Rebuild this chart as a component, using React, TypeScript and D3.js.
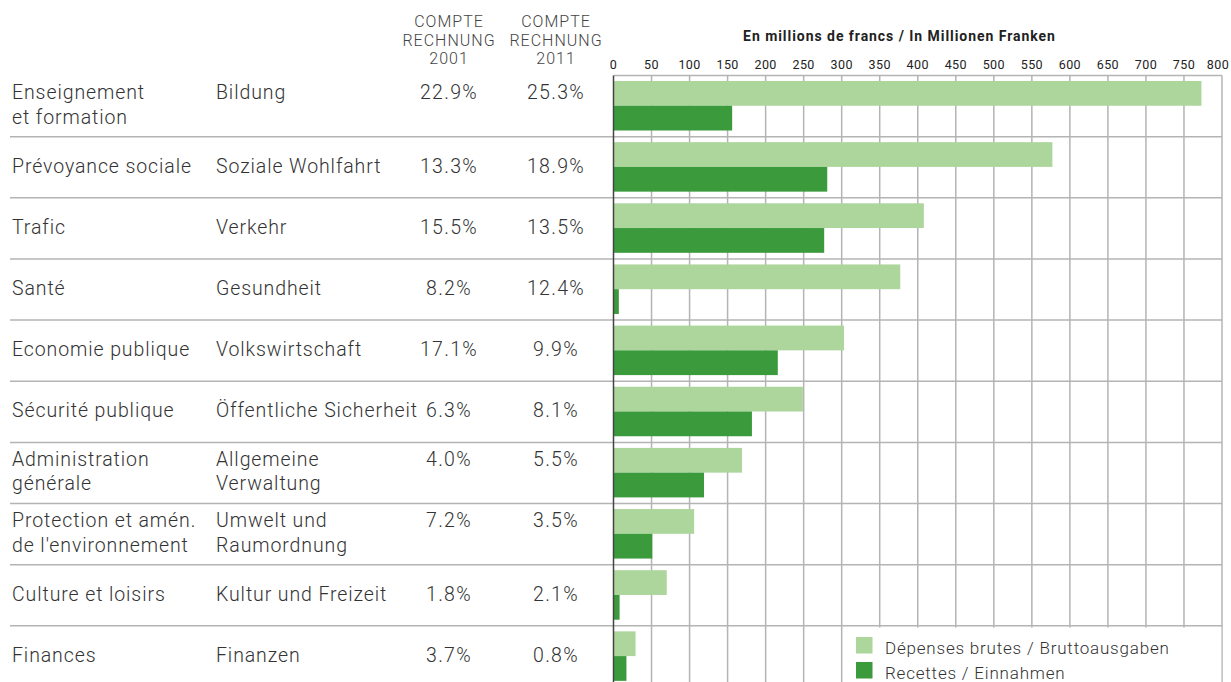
import React from "react";
import * as d3 from "d3";

const categoriesFr: string[][] = [
  ["Enseignement", "et formation"],
  ["Prévoyance sociale"],
  ["Trafic"],
  ["Santé"],
  ["Economie publique"],
  ["Sécurité publique"],
  ["Administration", "générale"],
  ["Protection et amén.", "de l'environnement"],
  ["Culture et loisirs"],
  ["Finances"],
];
const categoriesDe: string[][] = [
  ["Bildung"],
  ["Soziale Wohlfahrt"],
  ["Verkehr"],
  ["Gesundheit"],
  ["Volkswirtschaft"],
  ["Öffentliche Sicherheit"],
  ["Allgemeine", "Verwaltung"],
  ["Umwelt und", "Raumordnung"],
  ["Kultur und Freizeit"],
  ["Finanzen"],
];
const share2001 = ["22.9%", "13.3%", "15.5%", "8.2%", "17.1%", "6.3%", "4.0%", "7.2%", "1.8%", "3.7%"];
const share2011 = ["25.3%", "18.9%", "13.5%", "12.4%", "9.9%", "8.1%", "5.5%", "3.5%", "2.1%", "0.8%"];
const grossExpenses = [773, 577, 408, 377, 303, 249, 169, 106, 70, 29];
const revenues = [156, 281, 277, 7, 216, 182, 119, 51, 8, 17];
const xTicks = [0, 50, 100, 150, 200, 250, 300, 350, 400, 450, 500, 550, 600, 650, 700, 750, 800];
const seriesKeys = ["gross", "revenue"];
const legendLabels = ["Dépenses brutes / Bruttoausgaben", "Recettes / Einnahmen"];
const headerCol1 = ["COMPTE", "RECHNUNG", "2001"];
const headerCol2 = ["COMPTE", "RECHNUNG", "2011"];
const unitTitle = "En millions de francs / In Millionen Franken";

const W = 1231;
const H = 682;
const LIGHT = "#acd69c";
const DARK = "#3b9a3c";
const GRID = "#b4b4b4";
const TEXT = "#333333";
const FONT = "Roboto, 'DejaVu Sans', sans-serif";

export default function App() {
  const top = 75.5;
  const step = 61.15;
  const idx = categoriesFr.map((_, i) => i);
  const y = d3
    .scaleBand<number>()
    .domain(idx)
    .range([top, top + step * idx.length])
    .padding(0);
  const x = d3.scaleLinear().domain([0, 800]).range([613.5, 1222]);
  const inner = d3.scaleBand<string>().domain(seriesKeys).range([5.5, 55]).padding(0);
  const values: Record<string, number[]> = { gross: grossExpenses, revenue: revenues };
  const colors: Record<string, string> = { gross: LIGHT, revenue: DARK };

  const colFr = 12;
  const colDe = 216;
  const col2001 = 449;
  const col2011 = 556;

  return (
    <div style={{ position: "absolute", left: 0, top: 0 }}>
      <svg width={W} height={H} style={{ display: "block", fontFamily: FONT }}>
        <rect x={0} y={0} width={W} height={H} fill="#fff" />
        {/* header */}
        {headerCol1.map((t, i) => (
          <text key={"h1" + i} x={col2001} y={27 + i * 18.5} textAnchor="middle" fontSize={16} letterSpacing={1} fill="#444" fontWeight={300}>
            {t}
          </text>
        ))}
        {headerCol2.map((t, i) => (
          <text key={"h2" + i} x={col2011} y={27 + i * 18.5} textAnchor="middle" fontSize={16} letterSpacing={1} fill="#444" fontWeight={300}>
            {t}
          </text>
        ))}
        <text x={899.5} y={41} textAnchor="middle" fontSize={14} letterSpacing={0.95} fontWeight={700} fill="#222">
          {unitTitle}
        </text>
        {xTicks.map((t, i) => (
          <text
            key={"t" + t}
            x={x(t) + (i === xTicks.length - 1 ? -4 : 0)}
            y={69}
            textAnchor="middle"
            fontSize={12.5}
            letterSpacing={0.4}
            fill="#222"
          >
            {t}
          </text>
        ))}
        {/* vertical gridlines */}
        {xTicks.slice(1).map((t) => (
          <line key={"g" + t} x1={x(t)} x2={x(t)} y1={top} y2={H} stroke={GRID} strokeWidth={1.5} />
        ))}
        {/* top frame */}
        <line x1={x(0)} x2={x(800)} y1={top} y2={top} stroke={GRID} strokeWidth={1.5} />
        {/* row separators */}
        {idx.slice(1).map((i) => (
          <line key={"s" + i} x1={10} x2={x(800)} y1={y(i)!} y2={y(i)!} stroke={GRID} strokeWidth={1.5} />
        ))}
        {/* bars */}
        {idx.map((i) =>
          seriesKeys.map((k) => (
            <rect
              key={"b" + i + k}
              x={x(0)}
              y={y(i)! + inner(k)!}
              width={x(values[k][i]) - x(0)}
              height={inner.bandwidth()}
              fill={colors[k]}
            />
          ))
        )}
        {/* axis line */}
        <line x1={x(0)} x2={x(0)} y1={top} y2={H} stroke="#444" strokeWidth={1.5} />
        {/* row texts */}
        {idx.map((i) => {
          const two = Math.max(categoriesFr[i].length, categoriesDe[i].length) > 1;
          const base = y(i)! + (two ? 23.5 : 36);
          const lh = 24.5;
          return (
            <g key={"r" + i} fontSize={19.5} letterSpacing={0.9} fill={TEXT} fontWeight={300}>
              {categoriesFr[i].map((t, j) => (
                <text key={"f" + j} x={colFr} y={base + j * lh}>
                  {t}
                </text>
              ))}
              {categoriesDe[i].map((t, j) => (
                <text key={"d" + j} x={colDe} y={base + j * lh}>
                  {t}
                </text>
              ))}
              <text x={col2001} y={base} textAnchor="middle" letterSpacing={1.3}>
                {share2001[i]}
              </text>
              <text x={col2011} y={base} textAnchor="middle" letterSpacing={1.3}>
                {share2011[i]}
              </text>
            </g>
          );
        })}
        {/* legend */}
        <rect x={844} y={627.5} width={x(800) - 844 - 0.75} height={H - 627.5} fill="#fff" />
        {seriesKeys.map((k, i) => (
          <g key={"l" + k}>
            <rect x={856} y={637 + i * 25} width={16.5} height={16.5} fill={colors[k]} />
            <text x={885} y={654 + i * 24.5} fontSize={17} letterSpacing={0.8} fill={TEXT} fontWeight={300}>
              {legendLabels[i]}
            </text>
          </g>
        ))}
      </svg>
    </div>
  );
}
